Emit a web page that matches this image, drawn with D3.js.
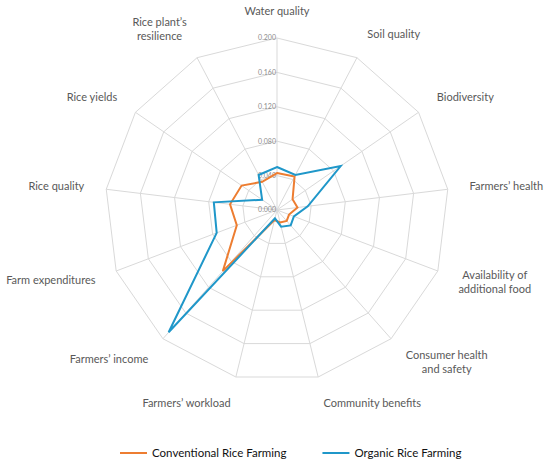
<!DOCTYPE html>
<html>
<head>
<meta charset="utf-8">
<script src="https://cdn.jsdelivr.net/npm/d3@7"></script>
<style>
  body { margin: 0; background: #fff; }
  svg { display: block; font-family: Lato, "Open Sans", sans-serif; }
</style>
</head>
<body>
<div id="chart"></div>
<script>
// data
var categories = [
  "Water quality", "Soil quality", "Biodiversity", "Farmers\u2019 health",
  "Availability of\nadditional food", "Consumer health\nand safety",
  "Community benefits", "Farmers\u2019 workload", "Farmers\u2019 income",
  "Farm expenditures", "Rice quality", "Rice yields", "Rice plant\u2019s\nresilience"
];
var conventional = [0.043, 0.044, 0.022, 0.024, 0.015, 0.017, 0.015, 0.012, 0.095, 0.050, 0.055, 0.050, 0.037];
var organic = [0.050, 0.046, 0.090, 0.036, 0.021, 0.024, 0.020, 0.010, 0.190, 0.075, 0.074, 0.021, 0.046];
var ticks = [0, 0.04, 0.08, 0.12, 0.16, 0.2];
var seriesNames = ["Conventional Rice Farming", "Organic Rice Farming"];

// layout
var width = 550, height = 467;
var center = { x: 277, y: 210 };
var radius = 172;
var labelgap = 22;
var lineheight = 14;
var colors = ["#ED7D31", "#1F97C9"];
var gridcolor = "#d9d9d9";

var n = categories.length;
var angle = function(i) { return i * 2 * Math.PI / n; };

var r = d3.scaleLinear()
  .domain([0, d3.max(ticks)])
  .range([0, radius]);

var svg = d3.select("#chart").append("svg")
  .attr("width", width)
  .attr("height", height);

var g = svg.append("g")
  .attr("transform", "translate(" + center.x + "," + center.y + ")");

var ring = d3.lineRadial()
  .angle(function(d, i) { return angle(i); })
  .radius(function(d) { return r(d); })
  .curve(d3.curveLinearClosed);

// grid rings
g.selectAll(".ring")
  .data(ticks.slice(1))
  .enter().append("path")
  .attr("class", "ring")
  .attr("fill", "none")
  .attr("stroke", gridcolor)
  .attr("stroke-width", 1)
  .attr("d", function(t) { return ring(categories.map(function() { return t; })); });

// spokes
g.selectAll(".spoke")
  .data(categories)
  .enter().append("line")
  .attr("class", "spoke")
  .attr("stroke", gridcolor)
  .attr("stroke-width", 1)
  .attr("x1", 0).attr("y1", 0)
  .attr("x2", function(d, i) { return r(d3.max(ticks)) * Math.sin(angle(i)); })
  .attr("y2", function(d, i) { return -r(d3.max(ticks)) * Math.cos(angle(i)); });

// tick labels on the first axis
g.selectAll(".tick")
  .data(ticks)
  .enter().append("text")
  .attr("class", "tick")
  .attr("x", -1)
  .attr("y", function(d) { return -r(d); })
  .attr("dy", "0.35em")
  .attr("text-anchor", "end")
  .attr("font-size", "7px")
  .attr("fill", "#8c8c8c")
  .text(d3.format(".3f"));

// category labels
var labels = g.selectAll(".label")
  .data(categories)
  .enter().append("g")
  .attr("class", "label");

labels.each(function(d, i) {
  var lines = d.split("\n");
  var lab = d3.select(this);
  lab.selectAll("text")
    .data(lines)
    .enter().append("text")
    .attr("text-anchor", "middle")
    .attr("font-size", "11px")
    .attr("fill", "#595959")
    .attr("x", 0)
    .attr("y", function(l, k) { return (k - (lines.length - 1) / 2) * lineheight; })
    .attr("dy", "0.35em")
    .text(function(l) { return l; });

  var w = this.getBBox().width;
  var h = lines.length * lineheight;
  var a = angle(i);
  var px = (radius + labelgap) * Math.sin(a);
  var py = -(radius + labelgap) * Math.cos(a);
  var s = Math.sin(a);
  var cx = s > 0.1 ? px + w / 2 : (s < -0.1 ? px - w / 2 : px);
  var cy = py - Math.cos(a) * h * 0.35;
  lab.attr("transform", "translate(" + cx + "," + cy + ")");
});

// series
var series = [conventional, organic];

g.selectAll(".series")
  .data(series)
  .enter().append("path")
  .attr("class", "series")
  .attr("fill", "none")
  .attr("stroke", function(d, i) { return colors[i]; })
  .attr("stroke-width", 2)
  .attr("stroke-linejoin", "miter")
  .attr("d", ring);

// legend
var legend = svg.append("g")
  .attr("transform", "translate(120,453)");

var xpos = 0;
seriesNames.forEach(function(name, i) {
  var item = legend.append("g")
    .attr("transform", "translate(" + xpos + ",0)");
  item.append("line")
    .attr("x1", 0).attr("x2", 27)
    .attr("y1", 0).attr("y2", 0)
    .attr("stroke", colors[i])
    .attr("stroke-width", 2);
  var t = item.append("text")
    .attr("x", 32)
    .attr("dy", "0.35em")
    .attr("font-size", "11.5px")
    .attr("fill", "#111")
    .text(name);
  xpos += 32 + t.node().getComputedTextLength() + 36;
});
</script>
</body>
</html>
